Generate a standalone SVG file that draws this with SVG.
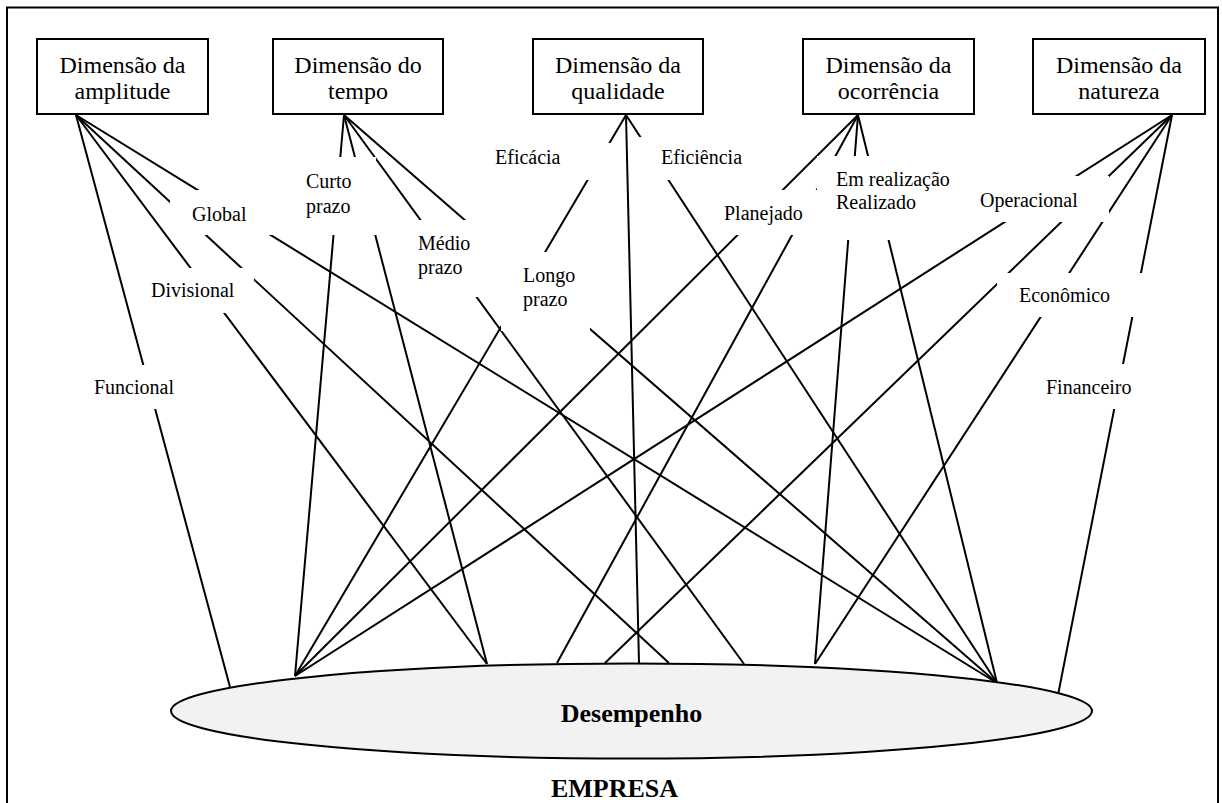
<svg xmlns="http://www.w3.org/2000/svg" width="1222" height="803" viewBox="0 0 1222 803">
<style>
.frame{fill:#fff;stroke:#000;stroke-width:2}
.box{fill:#fff;stroke:#000;stroke-width:2}
.bt{font-family:"Liberation Serif","Times New Roman",serif;font-size:24px;text-anchor:middle;fill:#000}
.lbl{font-family:"Liberation Serif","Times New Roman",serif;font-size:20px;fill:#000}
.bold{font-family:"Liberation Serif","Times New Roman",serif;font-size:26px;font-weight:bold;text-anchor:middle;fill:#000}
.c{stroke:#000;stroke-width:2;fill:none}
.bg{fill:#fff;stroke:none}
.ell{fill:#f2f2f2;stroke:#000;stroke-width:2}
</style>
<rect class="frame" x="7" y="7.5" width="1211" height="810"/>
<g id="connectors">
  <line class="c" x1="76" y1="115" x2="230" y2="687"/>
  <line class="c" x1="76" y1="115" x2="487" y2="664"/>
  <line class="c" x1="76" y1="115" x2="669" y2="663"/>
  <line class="c" x1="76" y1="115" x2="997" y2="683"/>
  <line class="c" x1="344" y1="115" x2="295" y2="676"/>
  <line class="c" x1="344" y1="115" x2="487" y2="664"/>
  <line class="c" x1="344" y1="115" x2="744" y2="664"/>
  <line class="c" x1="344" y1="115" x2="997" y2="683"/>
  <line class="c" x1="626" y1="115" x2="639" y2="663"/>
  <line class="c" x1="626" y1="115" x2="295" y2="676"/>
  <line class="c" x1="626" y1="115" x2="997" y2="683"/>
  <line class="c" x1="858" y1="115" x2="295" y2="676"/>
  <line class="c" x1="858" y1="115" x2="557" y2="663"/>
  <line class="c" x1="858" y1="115" x2="815" y2="664"/>
  <line class="c" x1="858" y1="115" x2="997" y2="683"/>
  <line class="c" x1="1172" y1="115" x2="295" y2="676"/>
  <line class="c" x1="1172" y1="115" x2="605" y2="663"/>
  <line class="c" x1="1172" y1="115" x2="815" y2="664"/>
  <line class="c" x1="1172" y1="115" x2="1058" y2="695"/>
</g>
<g id="labels">
  <g id="lbl-global"><rect class="bg" x="170" y="190" width="115" height="45"/><text class="lbl" x="192" y="221">Global</text></g>
  <g id="lbl-divisional"><rect class="bg" x="135" y="268" width="119" height="45"/><text class="lbl" x="151" y="297">Divisional</text></g>
  <g id="lbl-funcional"><rect class="bg" x="85" y="365" width="100" height="44"/><text class="lbl" x="94" y="394">Funcional</text></g>
  <g id="lbl-curto"><rect class="bg" x="296" y="157" width="80" height="78"/><text class="lbl" x="306" y="188">Curto</text><text class="lbl" x="306" y="213">prazo</text></g>
  <g id="lbl-medio"><rect class="bg" x="400" y="220" width="105" height="77"/><text class="lbl" x="418" y="250">Médio</text><text class="lbl" x="418" y="274">prazo</text></g>
  <g id="lbl-longo"><rect class="bg" x="501" y="252" width="89" height="79"/><text class="lbl" x="523" y="282">Longo</text><text class="lbl" x="523" y="306">prazo</text></g>
  <g id="lbl-eficacia"><rect class="bg" x="485" y="143" width="130" height="37"/><text class="lbl" x="495" y="164">Eficácia</text></g>
  <g id="lbl-eficiencia"><rect class="bg" x="633" y="137" width="127" height="43"/><text class="lbl" x="661" y="164">Eficiência</text></g>
  <g id="lbl-planejado"><rect class="bg" x="712" y="190" width="113" height="45"/><text class="lbl" x="724" y="220">Planejado</text></g>
  <g id="lbl-realizacao"><rect class="bg" x="817" y="156" width="143" height="84"/><text class="lbl" x="836" y="186">Em realização</text><text class="lbl" x="836" y="209">Realizado</text></g>
  <g id="lbl-operacional"><rect class="bg" x="965" y="176" width="144" height="46"/><text class="lbl" x="980" y="207">Operacional</text></g>
  <g id="lbl-economico"><rect class="bg" x="997" y="273" width="149" height="44"/><text class="lbl" x="1019" y="302">Econômico</text></g>
  <g id="lbl-financeiro"><rect class="bg" x="1030" y="364" width="115" height="45"/><text class="lbl" x="1046" y="394">Financeiro</text></g>
</g>
<g id="dim-amplitude"><rect class="box" x="37" y="39" width="171" height="75"/><text class="bt" x="122.5" y="73">Dimensão da</text><text class="bt" x="122.5" y="99">amplitude</text></g>
<g id="dim-tempo"><rect class="box" x="273" y="39" width="170" height="75"/><text class="bt" x="358" y="73">Dimensão do</text><text class="bt" x="358" y="99">tempo</text></g>
<g id="dim-qualidade"><rect class="box" x="533" y="39" width="170" height="75"/><text class="bt" x="618" y="73">Dimensão da</text><text class="bt" x="618" y="99">qualidade</text></g>
<g id="dim-ocorrencia"><rect class="box" x="803" y="39" width="171" height="75"/><text class="bt" x="888.5" y="73">Dimensão da</text><text class="bt" x="888.5" y="99">ocorrência</text></g>
<g id="dim-natureza"><rect class="box" x="1033" y="39" width="172" height="75"/><text class="bt" x="1119" y="73">Dimensão da</text><text class="bt" x="1119" y="99">natureza</text></g>
<g id="desempenho"><ellipse class="ell" cx="631.5" cy="711" rx="460.5" ry="47.5"/><text class="bold" x="631.5" y="722">Desempenho</text></g>
<g id="empresa"><text class="bold" x="614.5" y="797">EMPRESA</text></g>
</svg>
